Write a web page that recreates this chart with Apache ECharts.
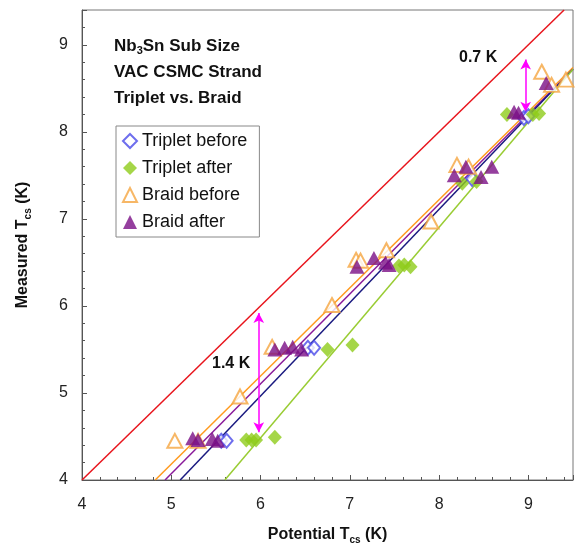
<!DOCTYPE html>
<html>
<head>
<meta charset="utf-8">
<script src="https://cdn.jsdelivr.net/npm/echarts@6/dist/echarts.min.js"></script>
<style>
  html, body { margin: 0; padding: 0; background: #fff; }
  #chart { width: 582px; height: 552px; }
</style>
</head>
<body>
<div id="chart"></div>
<script>
// measured vs potential Tcs
var tripletBefore = [[5.56,4.45],[5.62,4.45],[6.53,5.52],[6.60,5.52],[8.37,7.46],[8.95,8.16],[9.0,8.18]];
var tripletAfter = [[5.84,4.46],[5.90,4.46],[5.95,4.46],[6.16,4.49],[6.75,5.50],[7.03,5.55],[7.55,6.46],[7.61,6.47],[7.68,6.45],[8.26,7.41],[8.42,7.43],[8.76,8.20],[9.05,8.20],[9.12,8.21]];
var braidBefore = [[5.04,4.45],[5.30,4.45],[5.77,4.96],[6.13,5.53],[6.80,6.01],[7.07,6.53],[7.12,6.52],[7.41,6.64],[7.91,6.97],[8.20,7.62],[8.33,7.60],[9.15,8.69],[9.26,8.54],[9.42,8.60]];
var braidAfter = [[5.24,4.48],[5.30,4.46],[5.46,4.47],[5.52,4.45],[6.16,5.50],[6.27,5.52],[6.36,5.53],[6.46,5.50],[7.08,6.45],[7.27,6.55],[7.40,6.50],[7.44,6.47],[8.17,7.50],[8.30,7.60],[8.47,7.48],[8.59,7.60],[8.84,8.23],[8.89,8.22],[9.20,8.56]];

// fit lines and the y = x line
var identityLine = [[4,4],[9.4,9.4]];
var fitBraidBefore = [[4.82,4],[9.5,8.74]];
var fitBraidAfter = [[4.93,4],[9.5,8.72]];
var fitTripletBefore = [[5.10,4],[9.5,8.72]];
var fitTripletAfter = [[5.60,4],[9.5,8.72]];

// gap arrows
var arrowLow = [[5.98,5.92],[5.98,4.55]];
var arrowHigh = [[8.97,8.83],[8.97,8.23]];

var FONT = "'Liberation Sans', Arial, sans-serif";

function fitLine(name, data, color) {
    return {
        name: name, type: 'line', data: data, symbol: 'none', z: 2,
        lineStyle: { color: color, width: 1.5 }, silent: true
    };
}

function arrowLine(data) {
    return {
        type: 'line', data: [], silent: true,
        markLine: {
            silent: true, animation: false,
            symbol: ['arrow', 'arrow'], symbolSize: [8, 10],
            label: { show: false },
            lineStyle: { color: '#ff00ff', width: 1.5, type: 'solid' },
            data: [[{ coord: data[0] }, { coord: data[1] }]]
        }
    };
}

var chart = echarts.init(document.getElementById('chart'));
var option = {
    animation: false,
    textStyle: { fontFamily: FONT },
    grid: {
        left: 82, right: 9, top: 10, bottom: 72,
        show: true, borderColor: '#777', borderWidth: 1
    },
    legend: {
        orient: 'vertical',
        left: 116, top: 126,
        data: ['Triplet before', 'Triplet after', 'Braid before', 'Braid after'],
        itemWidth: 14, itemHeight: 14, itemGap: 9,
        padding: [6, 12, 6, 6],
        borderColor: '#888', borderWidth: 1,
        textStyle: { fontSize: 18, color: '#111', fontFamily: FONT }
    },
    xAxis: {
        type: 'value', min: 4, max: 9.5, interval: 1,
        name: '{a|Potential T}{s|cs}{a| (K)}',
        nameLocation: 'middle', nameGap: 45,
        nameTextStyle: {
            rich: {
                a: { fontSize: 16, fontWeight: 'bold', color: '#111', fontFamily: FONT },
                s: { fontSize: 10, fontWeight: 'bold', color: '#111', fontFamily: FONT, padding: [10, 0, 0, 0] }
            }
        },
        axisLine: { lineStyle: { color: '#555' } },
        axisTick: { inside: true, length: 5, lineStyle: { color: '#555' } },
        minorTick: { show: true, splitNumber: 5, length: 3, lineStyle: { color: '#555' } },
        splitLine: { show: false },
        axisLabel: { fontSize: 16, color: '#222', margin: 17, showMaxLabel: false }
    },
    yAxis: {
        type: 'value', min: 4, max: 9.4, interval: 1,
        name: '{a|Measured T}{s|cs}{a| (K)}',
        nameLocation: 'middle', nameGap: 49,
        nameTextStyle: {
            rich: {
                a: { fontSize: 16, fontWeight: 'bold', color: '#111', fontFamily: FONT },
                s: { fontSize: 10, fontWeight: 'bold', color: '#111', fontFamily: FONT, padding: [10, 0, 0, 0] }
            }
        },
        axisLine: { lineStyle: { color: '#555' } },
        axisTick: { inside: true, length: 5, lineStyle: { color: '#555' } },
        minorTick: { show: true, splitNumber: 5, length: 3, lineStyle: { color: '#555' } },
        splitLine: { show: false },
        axisLabel: { fontSize: 16, color: '#222', margin: 14, showMaxLabel: false }
    },
    graphic: [
        {
            type: 'text', left: 114, top: 36, z: 10,
            style: {
                text: '{b|Nb}{s|3}{b|Sn Sub Size}\n{b|VAC CSMC Strand}\n{b|Triplet vs. Braid}',
                rich: {
                    b: { fontSize: 17, fontWeight: 'bold', fill: '#111', fontFamily: FONT, lineHeight: 26 },
                    s: { fontSize: 11, fontWeight: 'bold', fill: '#111', fontFamily: FONT, lineHeight: 26, padding: [9, 0, 0, 0] }
                }
            }
        },
        {
            type: 'text', left: 212, top: 356, z: 10,
            style: { text: '1.4 K', fontSize: 16, fontWeight: 'bold', fill: '#111', fontFamily: FONT }
        },
        {
            type: 'text', left: 459, top: 50, z: 10,
            style: { text: '0.7 K', fontSize: 16, fontWeight: 'bold', fill: '#111', fontFamily: FONT }
        }
    ],
    series: [
        fitLine('identity', identityLine, '#e8141c'),
        fitLine('fit braid before', fitBraidBefore, '#ff9a1f'),
        fitLine('fit braid after', fitBraidAfter, '#8a1a9a'),
        fitLine('fit triplet before', fitTripletBefore, '#1a1a80'),
        fitLine('fit triplet after', fitTripletAfter, '#99cc33'),
        arrowLine(arrowLow),
        arrowLine(arrowHigh),
        {
            name: 'Triplet before', type: 'scatter', data: tripletBefore, z: 5,
            symbol: 'emptyDiamond', symbolSize: [12, 14],
            itemStyle: { color: '#4a4ae8', borderWidth: 1.2 }
        },
        {
            name: 'Triplet after', type: 'scatter', data: tripletAfter, z: 5,
            symbol: 'diamond', symbolSize: [14, 15],
            itemStyle: { color: '#8fcc1a' }
        },
        {
            name: 'Braid before', type: 'scatter', data: braidBefore, z: 5,
            symbol: 'emptyTriangle', symbolSize: [15, 14],
            itemStyle: { color: '#f5a540', borderWidth: 1.2 }
        },
        {
            name: 'Braid after', type: 'scatter', data: braidAfter, z: 6,
            symbol: 'triangle', symbolSize: [15, 14],
            itemStyle: { color: '#7a0f86' }
        }
    ]
};
chart.setOption(option);
</script>
</body>
</html>
